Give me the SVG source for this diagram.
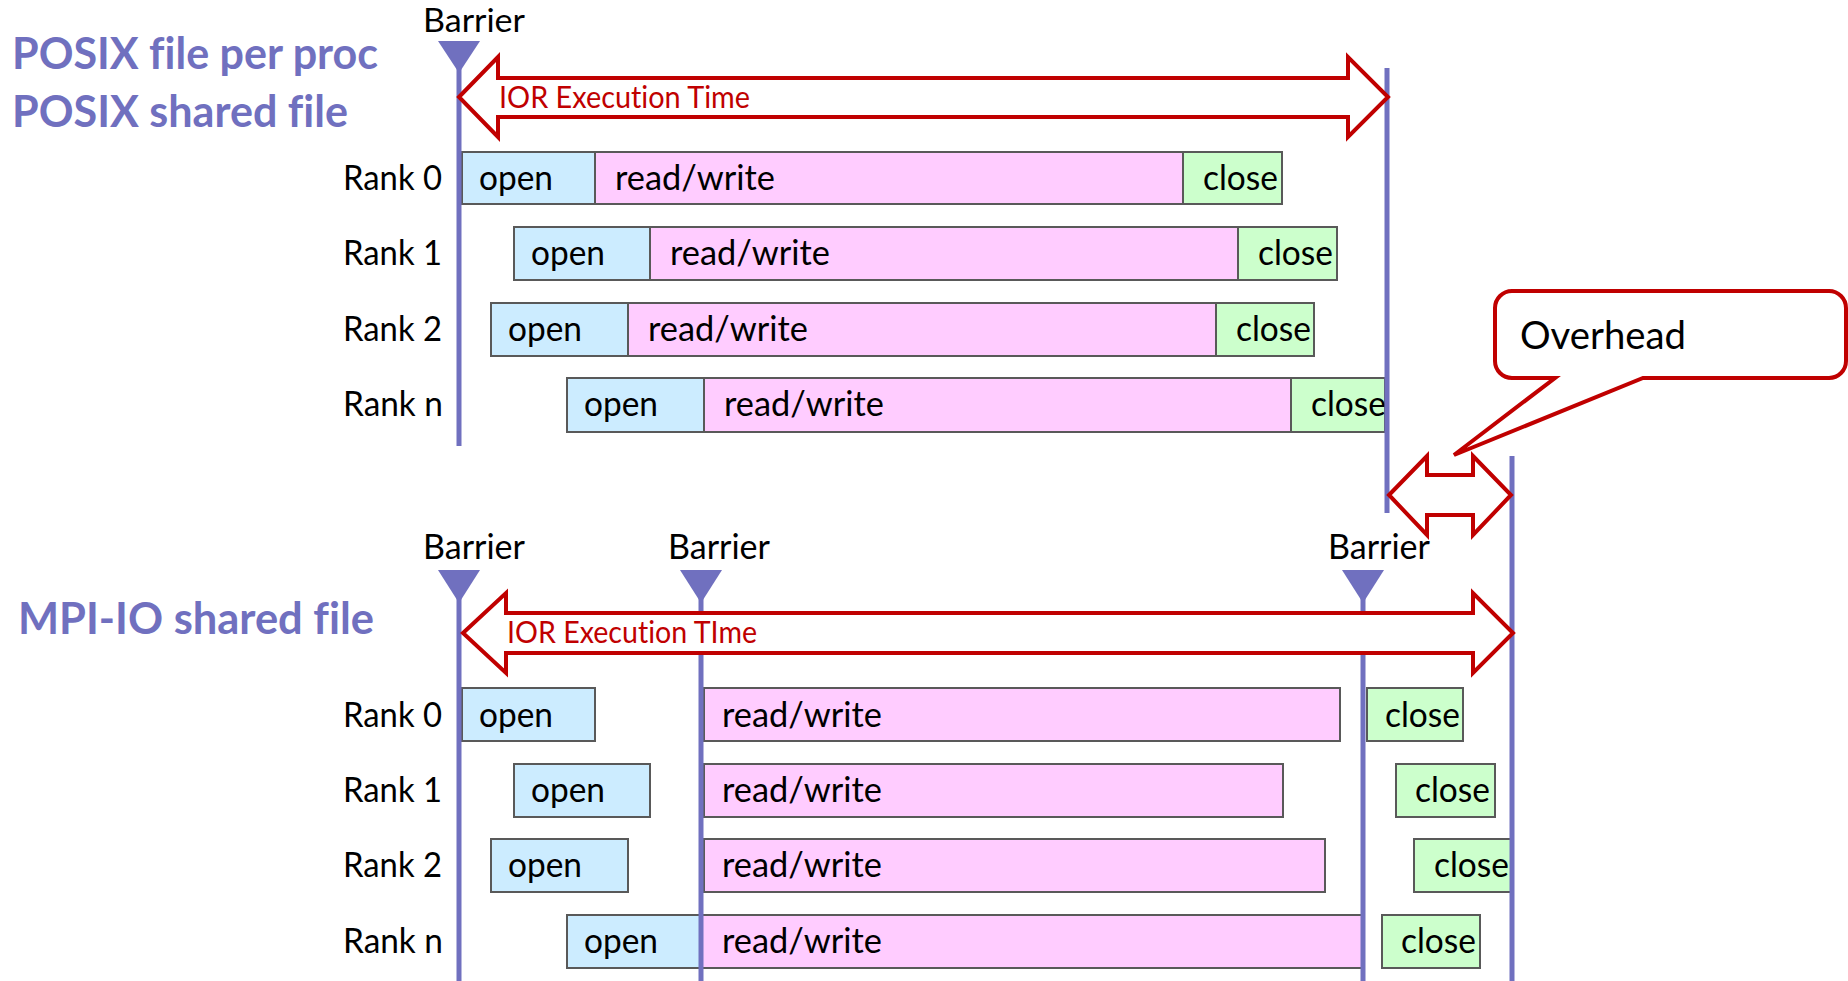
<svg xmlns="http://www.w3.org/2000/svg" width="1848" height="981" viewBox="0 0 1848 981">
<style>
text{font-family:Lato,"Open Sans","Liberation Sans",sans-serif;fill:#000;font-variant-ligatures:none}
.title{font-weight:bold;font-size:44px;fill:#7070BF}
.lbl{font-size:34px}
.ior{font-size:30px;fill:#C00000}
.ovh{font-size:39px}
.open{fill:#CCECFF;stroke:#595959;stroke-width:2}
.rw{fill:#FFCCFF;stroke:#595959;stroke-width:2}
.close{fill:#CCFFCC;stroke:#595959;stroke-width:2}
.bar{stroke:#7070BF;stroke-width:5;fill:none}
.tri{fill:#7070BF}
.big{fill:#fff;stroke:#C00000;stroke-width:4;stroke-linejoin:miter}
</style>
<rect width="1848" height="981" fill="#fff"/>

<g id="titles">
<text class="title" x="12" y="69" textLength="366" lengthAdjust="spacingAndGlyphs">POSIX file per proc</text>
<text class="title" x="12" y="127" textLength="336" lengthAdjust="spacingAndGlyphs">POSIX shared file</text>
<text class="title" x="18" y="634" textLength="356" lengthAdjust="spacingAndGlyphs">MPI-IO shared file</text>
</g>

<!-- TOP SECTION -->
<g id="top-rank0">
<text class="lbl" x="343" y="190" textLength="99" lengthAdjust="spacingAndGlyphs">Rank 0</text>
<rect class="open" x="462" y="152" width="133" height="52"/><text class="lbl" x="479" y="190" textLength="74" lengthAdjust="spacingAndGlyphs">open</text>
<rect class="rw" x="595" y="152" width="588" height="52"/><text class="lbl" x="615" y="190" textLength="160" lengthAdjust="spacingAndGlyphs">read/write</text>
<rect class="close" x="1183" y="152" width="99" height="52"/><text class="lbl" x="1203" y="190" textLength="75" lengthAdjust="spacingAndGlyphs">close</text>
</g>
<g id="top-rank1">
<text class="lbl" x="343" y="265" textLength="99" lengthAdjust="spacingAndGlyphs">Rank 1</text>
<rect class="open" x="514" y="227" width="136" height="53"/><text class="lbl" x="531" y="265" textLength="74" lengthAdjust="spacingAndGlyphs">open</text>
<rect class="rw" x="650" y="227" width="588" height="53"/><text class="lbl" x="670" y="265" textLength="160" lengthAdjust="spacingAndGlyphs">read/write</text>
<rect class="close" x="1238" y="227" width="99" height="53"/><text class="lbl" x="1258" y="265" textLength="75" lengthAdjust="spacingAndGlyphs">close</text>
</g>
<g id="top-rank2">
<text class="lbl" x="343" y="341" textLength="99" lengthAdjust="spacingAndGlyphs">Rank 2</text>
<rect class="open" x="491" y="303" width="137" height="53"/><text class="lbl" x="508" y="341" textLength="74" lengthAdjust="spacingAndGlyphs">open</text>
<rect class="rw" x="628" y="303" width="588" height="53"/><text class="lbl" x="648" y="341" textLength="160" lengthAdjust="spacingAndGlyphs">read/write</text>
<rect class="close" x="1216" y="303" width="98" height="53"/><text class="lbl" x="1236" y="341" textLength="75" lengthAdjust="spacingAndGlyphs">close</text>
</g>
<g id="top-rankn">
<text class="lbl" x="343" y="416" textLength="100" lengthAdjust="spacingAndGlyphs">Rank n</text>
<rect class="open" x="567" y="378" width="137" height="54"/><text class="lbl" x="584" y="416" textLength="74" lengthAdjust="spacingAndGlyphs">open</text>
<rect class="rw" x="704" y="378" width="587" height="54"/><text class="lbl" x="724" y="416" textLength="160" lengthAdjust="spacingAndGlyphs">read/write</text>
<rect class="close" x="1291" y="378" width="94" height="54"/><text class="lbl" x="1311" y="416" textLength="75" lengthAdjust="spacingAndGlyphs">close</text>
</g>

<!-- BOTTOM SECTION -->
<g id="bot-rank0">
<text class="lbl" x="343" y="727" textLength="99" lengthAdjust="spacingAndGlyphs">Rank 0</text>
<rect class="open" x="462" y="688" width="133" height="53"/><text class="lbl" x="479" y="727" textLength="74" lengthAdjust="spacingAndGlyphs">open</text>
<rect class="rw" x="704" y="688" width="636" height="53"/><text class="lbl" x="722" y="727" textLength="160" lengthAdjust="spacingAndGlyphs">read/write</text>
<rect class="close" x="1367" y="688" width="96" height="53"/><text class="lbl" x="1385" y="727" textLength="75" lengthAdjust="spacingAndGlyphs">close</text>
</g>
<g id="bot-rank1">
<text class="lbl" x="343" y="802" textLength="99" lengthAdjust="spacingAndGlyphs">Rank 1</text>
<rect class="open" x="514" y="764" width="136" height="53"/><text class="lbl" x="531" y="802" textLength="74" lengthAdjust="spacingAndGlyphs">open</text>
<rect class="rw" x="704" y="764" width="579" height="53"/><text class="lbl" x="722" y="802" textLength="160" lengthAdjust="spacingAndGlyphs">read/write</text>
<rect class="close" x="1396" y="764" width="99" height="53"/><text class="lbl" x="1415" y="802" textLength="75" lengthAdjust="spacingAndGlyphs">close</text>
</g>
<g id="bot-rank2">
<text class="lbl" x="343" y="877" textLength="99" lengthAdjust="spacingAndGlyphs">Rank 2</text>
<rect class="open" x="491" y="839" width="137" height="53"/><text class="lbl" x="508" y="877" textLength="74" lengthAdjust="spacingAndGlyphs">open</text>
<rect class="rw" x="704" y="839" width="621" height="53"/><text class="lbl" x="722" y="877" textLength="160" lengthAdjust="spacingAndGlyphs">read/write</text>
<rect class="close" x="1414" y="839" width="97" height="53"/><text class="lbl" x="1434" y="877" textLength="75" lengthAdjust="spacingAndGlyphs">close</text>
</g>
<g id="bot-rankn">
<text class="lbl" x="343" y="953" textLength="100" lengthAdjust="spacingAndGlyphs">Rank n</text>
<rect class="open" x="567" y="915" width="134" height="53"/><text class="lbl" x="584" y="953" textLength="74" lengthAdjust="spacingAndGlyphs">open</text>
<rect class="rw" x="701" y="915" width="662" height="53"/><text class="lbl" x="722" y="953" textLength="160" lengthAdjust="spacingAndGlyphs">read/write</text>
<rect class="close" x="1382" y="915" width="98" height="53"/><text class="lbl" x="1401" y="953" textLength="75" lengthAdjust="spacingAndGlyphs">close</text>
</g>

<g id="connectors">
<line class="bar" x1="459" y1="45" x2="459" y2="446"/>
<line class="bar" x1="1387" y1="68" x2="1387" y2="513"/>
<line class="bar" x1="459" y1="575" x2="459" y2="981"/>
<line class="bar" x1="701" y1="575" x2="701" y2="981"/>
<line class="bar" x1="1363" y1="575" x2="1363" y2="981"/>
<line class="bar" x1="1512" y1="456" x2="1512" y2="981"/>
<polygon class="tri" points="438,41 480,41 459,73"/>
<polygon class="tri" points="438,570 480,570 459,603"/>
<polygon class="tri" points="680,570 722,570 701,603"/>
<polygon class="tri" points="1342,570 1384,570 1363,603"/>
<path class="big" d="M459,97 L498,57 L498,78 L1348,78 L1348,57 L1388,97 L1348,137 L1348,117 L498,117 L498,137 Z"/>
<path class="big" d="M463,633 L506,593 L506,613 L1473,613 L1473,593 L1513,633 L1473,673 L1473,653 L506,653 L506,673 Z"/>
<path class="big" d="M1389,495 L1427,456 L1427,475 L1473,475 L1473,456 L1511,495 L1473,535 L1473,515 L1427,515 L1427,535 Z"/>
</g>

<g id="barrier-labels">
<text class="lbl" x="423" y="32" font-size="32" style="font-size:32px" textLength="102" lengthAdjust="spacingAndGlyphs">Barrier</text>
<text class="lbl" x="423" y="559" textLength="102" lengthAdjust="spacingAndGlyphs">Barrier</text>
<text class="lbl" x="668" y="559" textLength="102" lengthAdjust="spacingAndGlyphs">Barrier</text>
<text class="lbl" x="1328" y="559" textLength="102" lengthAdjust="spacingAndGlyphs">Barrier</text>
</g>

<g id="ior-labels">
<text class="ior" x="499" y="108" textLength="251" lengthAdjust="spacingAndGlyphs">IOR Execution Time</text>
<text class="ior" x="507" y="643" textLength="250" lengthAdjust="spacingAndGlyphs">IOR Execution TIme</text>
</g>

<g id="overhead-callout">
<path class="big" d="M1512,291 H1829 A17,17 0 0 1 1846,308 V361 A17,17 0 0 1 1829,378 H1643 L1454,455 L1555,378 H1512 A17,17 0 0 1 1495,361 V308 A17,17 0 0 1 1512,291 Z"/>
<text class="ovh" x="1520" y="349" textLength="166" lengthAdjust="spacingAndGlyphs">Overhead</text>
</g>
</svg>
